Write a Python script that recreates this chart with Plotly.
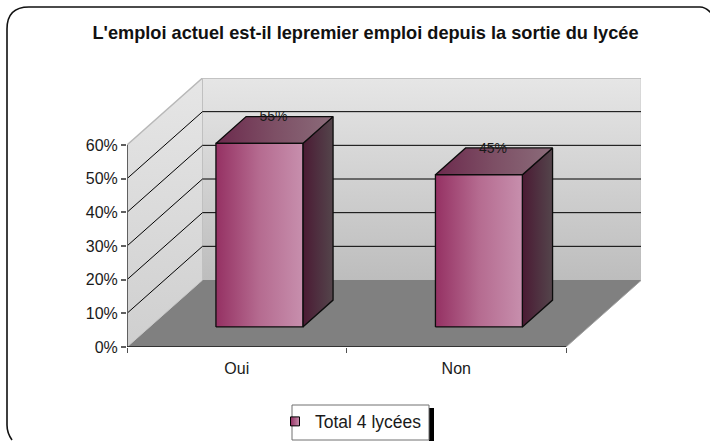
import plotly.graph_objects as go

# ---- data ----
categories = ["Oui", "Non"]
values = [54.5, 45.2]
value_labels = ["55%", "45%"]
y_ticks = [0, 10, 20, 30, 40, 50, 60]
y_tick_labels = ["0%", "10%", "20%", "30%", "40%", "50%", "60%"]
series_name = "Total 4 lycées"
title_text = "L'emploi actuel est-il lepremier emploi depuis la sortie du lycée"

# ---- geometry of the oblique projection (in axis units) ----
W, H = 710, 441
PX_L, PX_R, PX_T, PX_B = 127, 641, 78, 347   # plot area in pixels
PX_PER_CAT = 219.5
PX_PER_PCT = (347 - 145) / 60
DEPTH_X = 75.5 / PX_PER_CAT    # axis offset of the back wall
DEPTH_Y = 67 / PX_PER_PCT
N = len(categories)
Y_MAX = max(y_ticks)
BAR_W = 0.396
D0, D1 = 0.3, 0.7              # bar depth span


def proj(cat, val, depth):
    return cat + depth * DEPTH_X, val + depth * DEPTH_Y


def poly(points, **kw):
    xs, ys = zip(*[proj(*p) for p in points])
    return go.Scatter(x=list(xs) + [xs[0]], y=list(ys) + [ys[0]], mode="lines",
                      fill="toself", hoverinfo="skip", showlegend=False, **kw)


def seg(points, color, width):
    xs, ys = zip(*[proj(*p) for p in points])
    return go.Scatter(x=list(xs), y=list(ys), mode="lines", hoverinfo="skip",
                      showlegend=False, line=dict(color=color, width=width))


def grad(kind, colors):
    n = len(colors) - 1
    return dict(type=kind, colorscale=[[i / n, c] for i, c in enumerate(colors)])


fig = go.Figure()

# walls and floor
noline = dict(width=0, color="rgba(0,0,0,0)")
fig.add_trace(poly([(0, 0, 1), (N, 0, 1), (N, Y_MAX, 1), (0, Y_MAX, 1)], line=noline,
                   fillgradient=grad("vertical", ["#bdbdbd", "#e6e6e6"])))
fig.add_trace(poly([(0, 0, 0), (0, 0, 1), (0, Y_MAX, 1), (0, Y_MAX, 0)], line=noline,
                   fillgradient=grad("vertical", ["#cfcfcf", "#e6e6e6"])))
fig.add_trace(poly([(0, 0, 0), (0, 0, 1), (N, 0, 1), (N, 0, 0)], line=noline, fillcolor="#808080"))

# wall edges
fig.add_trace(seg([(0, Y_MAX, 0), (0, Y_MAX, 1), (N, Y_MAX, 1), (N, 0, 1)], "#b8b8b8", 1.5))
fig.add_trace(seg([(0, 0, 1), (0, Y_MAX, 1)], "#c0c0c0", 1))
fig.add_trace(seg([(0, 0, 0), (0, 0, 1)], "#c8c8c8", 1))

# gridlines
for t in y_ticks:
    if 0 < t < Y_MAX:
        fig.add_trace(seg([(0, t, 0), (0, t, 1), (N, t, 1)], "#000000", 1))

# bars
for i, v in enumerate(values):
    a = i + (1 - BAR_W) / 2
    b = a + BAR_W
    edge = dict(color="#0c0c0c", width=1.3)
    fig.add_trace(poly([(b, 0, D0), (b, 0, D1), (b, v, D1), (b, v, D0)], line=edge,
                       fillgradient=grad("horizontal", ["#4b1a33", "#4f3040", "#54454b"])))
    fig.add_trace(poly([(a, v, D0), (a, v, D1), (b, v, D1), (b, v, D0)], line=edge,
                       fillgradient=grad("horizontal", ["#6c2a4d", "#7d4f65", "#8b6c7a"])))
    fig.add_trace(poly([(a, 0, D0), (b, 0, D0), (b, v, D0), (a, v, D0)], line=edge,
                       fillgradient=grad("horizontal", ["#953163", "#b56b90", "#c78fad"])))

# axis lines
fig.add_trace(seg([(0, 0, 0), (0, Y_MAX, 0)], "#606060", 2))
fig.add_trace(seg([(0, 0, 0), (N, 0, 0)], "#1a1a1a", 1.5))
fig.add_trace(seg([(N, 0, 0), (N, 0, 1)], "#a0a0a0", 1))

# data labels (centred on the back top edge of each bar)
lx, ly = [], []
for i, v in enumerate(values):
    x, y = proj(i + 0.5, v, (D0 + D1) / 2)
    lx.append(x - 0.005)
    ly.append(v + D1 * DEPTH_Y - 0.4)
fig.add_trace(go.Scatter(x=lx, y=ly, mode="text", text=value_labels, hoverinfo="skip",
                         showlegend=False, textposition="middle center",
                         textfont=dict(family="Liberation Sans", size=14, color="#1a1a1a")))

# legend entry
fig.add_trace(go.Scatter(x=[None], y=[None], mode="markers", name=series_name,
                         marker=dict(symbol="square", size=9, color="#953163",
                                     gradient=dict(type="horizontal", color="#c78fad"),
                                     line=dict(color="#000000", width=1))))


def px(x):
    return (x - PX_L) / (PX_R - PX_L)


def py(y):
    return (PX_B - y) / (PX_B - PX_T)


def P(x, y):
    return f"{px(x):.5f} {py(y):.5f}"


frame = (f"M {P(12, 440)} Q {P(7, 433)} {P(7, 425)} L {P(7, 29)} Q {P(7, 7)} {P(29, 7)} "
         f"L {P(700, 7)} Q {P(706, 7)} {P(712, 14)}")

shapes = [
    dict(type="path", path=frame, xref="paper", yref="paper", line=dict(color="#111111", width=1.6)),
    dict(type="rect", xref="paper", yref="paper", x0=px(429), x1=px(434), y0=py(408), y1=py(441),
         fillcolor="#000000", line=dict(width=0)),
    dict(type="rect", xref="paper", yref="paper", x0=px(292), x1=px(429), y0=py(405), y1=py(440),
         fillcolor="#ffffff", line=dict(color="#707070", width=1)),
]

fig.update_layout(
    width=W, height=H, autosize=False,
    margin=dict(l=PX_L, r=W - PX_R, t=PX_T, b=H - PX_B, pad=0, autoexpand=False),
    paper_bgcolor="#ffffff", plot_bgcolor="rgba(0,0,0,0)",
    font=dict(family="Liberation Sans", color="#1a1a1a"),
    title=dict(text=f"<b>{title_text}</b>", x=365.5 / W, xanchor="center", xref="container",
               y=1 - 33 / H, yanchor="middle",
               font=dict(family="Liberation Sans", size=18.2, color="#111111")),
    xaxis=dict(range=[0, (PX_R - PX_L) / PX_PER_CAT], showgrid=False, zeroline=False, showline=False,
               tickvals=[i + 0.5 for i in range(N)], ticktext=categories, ticks="", ticklabelstandoff=10,
               tickfont=dict(size=16, color="#1a1a1a"),
               minor=dict(tickvals=list(range(N + 1)), ticks="outside", ticklen=5,
                          tickcolor="#505050", tickwidth=1, showgrid=False),
               fixedrange=True),
    yaxis=dict(range=[0, (PX_B - PX_T) / PX_PER_PCT], showgrid=False, zeroline=False, showline=False,
               tickvals=y_ticks, ticktext=y_tick_labels, ticks="outside", ticklen=5,
               tickcolor="#606060", tickwidth=1.5, tickfont=dict(size=16, color="#1a1a1a"),
               fixedrange=True),
    shapes=shapes,
    showlegend=True,
    legend=dict(x=px(290), xanchor="left", y=py(421.5), yanchor="middle", orientation="v",
                bgcolor="rgba(0,0,0,0)", borderwidth=0, indentation=-15,
                font=dict(family="Liberation Sans", size=17.5, color="#1a1a1a")),
)

fig.write_html("out.html", config=dict(displayModeBar=False),
               post_script="document.documentElement.style.overflow='hidden';document.body.style.margin='0';")
